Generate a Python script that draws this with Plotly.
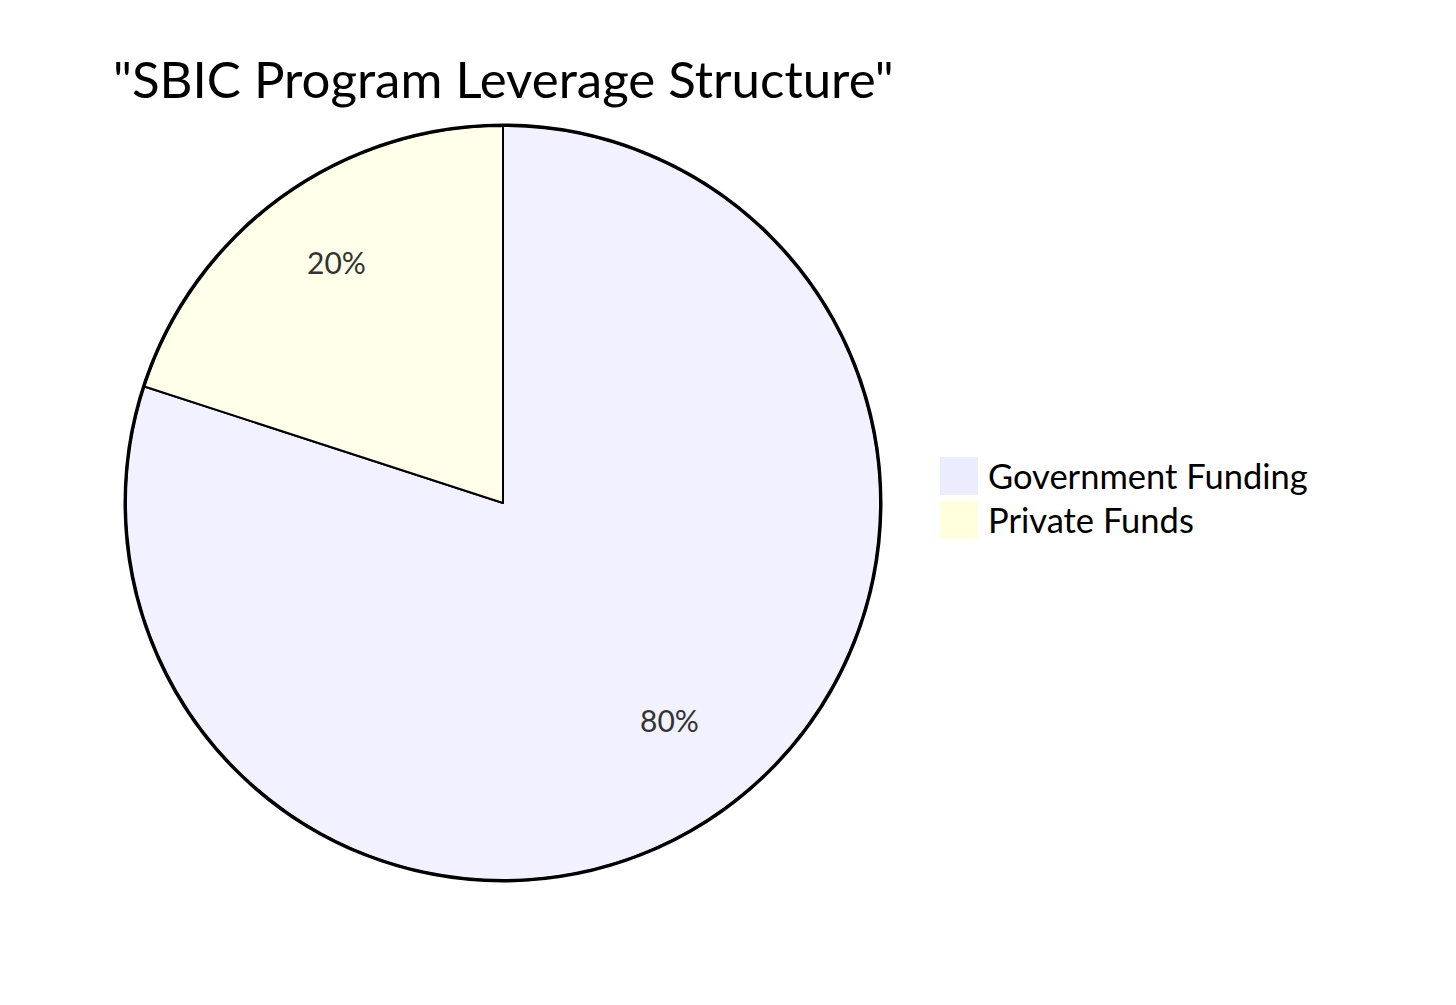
import math
import plotly.graph_objects as go

# data
labels = ["Government Funding", "Private Funds"]
values = [80, 20]
colors = ["#F1F1FF", "#FFFFEA"]
legend_colors = ["#ECECFF", "#FFFFDE"]

W, H = 1456, 1005
OFF = 8  # the page body adds an 8px margin
FONT = "Lato"

def px(x):
    return (x - OFF) / W

def py(y):
    return 1 - (y - OFF) / H

cx, cy, r = 503, 503, 377

fig = go.Figure(go.Pie(
    labels=labels,
    values=values,
    sort=False,
    direction="clockwise",
    rotation=0,
    marker={"colors": colors, "line": {"color": "black", "width": 2}},
    textinfo="none",
    domain={"x": [px(cx - r), px(cx + r)], "y": [py(cy + r), py(cy - r)]},
    showlegend=False,
    hoverinfo="label+percent",
))

# outer ring of the pie
fig.add_shape(type="circle", xref="paper", yref="paper",
              x0=px(cx - r - 1), x1=px(cx + r + 1), y0=py(cy + r + 1), y1=py(cy - r - 1),
              line={"color": "black", "width": 3})

# percentage labels at 3/4 of the radius, mid-angle of each slice
total = sum(values)
start = 0
for v in values:
    mid = (start + v / 2) / total * 2 * math.pi
    start += v
    lx = cx + 0.75 * r * math.sin(mid)
    ly = cy - 0.75 * r * math.cos(mid)
    fig.add_annotation(x=px(lx), y=py(ly), xref="paper", yref="paper",
                       xanchor="center", yanchor="middle",
                       text=f"{v / total:.0%}", showarrow=False, yshift=12,
                       font={"family": FONT, "size": 30, "color": "#333333"})

# legend drawn by hand so the swatches can be large like the original
for i, (lab, col) in enumerate(zip(labels, legend_colors)):
    top = 457 + i * 44
    fig.add_shape(type="rect", xref="paper", yref="paper",
                  x0=px(940), x1=px(978), y0=py(top + 38), y1=py(top),
                  fillcolor=col, line={"width": 0})
    fig.add_annotation(x=px(986), y=py(top + 19), xref="paper", yref="paper",
                       text=lab, showarrow=False, xanchor="left", yanchor="middle",
                       font={"family": FONT, "size": 34.5, "color": "black"})

fig.update_layout(
    width=W, height=H,
    margin={"l": 0, "r": 0, "t": 0, "b": 0},
    paper_bgcolor="white",
    title={"text": '"SBIC Program Leverage Structure"', "x": px(113), "xanchor": "left",
           "y": py(80), "yanchor": "middle",
           "font": {"family": FONT, "size": 51, "color": "black"}},
)

fig.write_html("out.html")
